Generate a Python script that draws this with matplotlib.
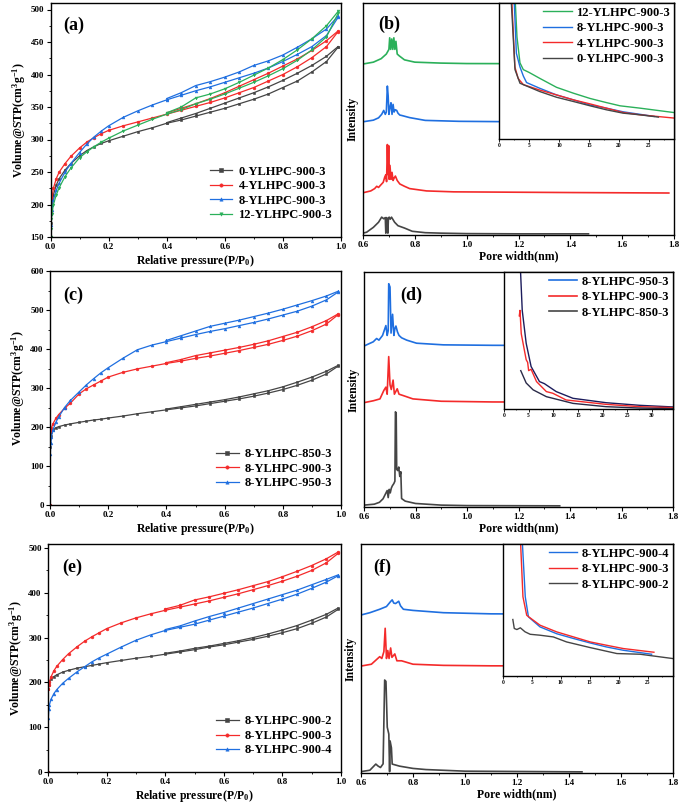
import matplotlib
matplotlib.use("Agg")
import matplotlib.pyplot as plt
from matplotlib.ticker import MultipleLocator, AutoMinorLocator, FormatStrFormatter
from matplotlib.lines import Line2D

plt.rcParams['font.family'] = ['Liberation Serif', 'DejaVu Serif']
plt.rcParams['font.weight'] = 'bold'
plt.rcParams['axes.labelweight'] = 'bold'
plt.rcParams['mathtext.fontset'] = 'custom'
plt.rcParams['mathtext.rm'] = 'Liberation Serif:bold'
plt.rcParams['mathtext.it'] = 'Liberation Serif:bold:italic'
plt.rcParams['mathtext.bf'] = 'Liberation Serif:bold'

# ---------------- colours ----------------
C_GRAY = '#454545'
C_RED = '#f42a2a'
C_BLUE = '#1f6fe0'
C_GREEN = '#2bb05a'
C_NAVY = '#1c1c5c'

# ---------------- isotherm data ----------------
P_ads = [0.0, 0.001, 0.003, 0.005, 0.01, 0.02, 0.03, 0.05, 0.07, 0.1, 0.125, 0.15, 0.175, 0.2,
         0.25, 0.3, 0.35, 0.4, 0.45, 0.5, 0.55, 0.6, 0.65, 0.7, 0.75, 0.8, 0.85, 0.9, 0.95, 0.99]
P_des = [0.99, 0.95, 0.9, 0.85, 0.8, 0.75, 0.7, 0.65, 0.6, 0.55, 0.5, 0.45, 0.4]

# panel (a)
a_labels = ['0-YLHPC-900-3', '4-YLHPC-900-3', '8-YLHPC-900-3', '12-YLHPC-900-3']
a_ads = [
    [150, 172, 192, 200, 215, 230, 240, 253, 263, 275, 283, 289, 294, 298, 305, 312, 318, 325, 330, 336, 342, 348, 355, 362, 370, 380, 390, 404, 420, 442],
    [150, 188, 203, 210, 225, 240, 250, 263, 274, 287, 296, 303, 309, 314, 321, 327, 333, 339, 345, 351, 357, 364, 372, 380, 390, 400, 412, 426, 443, 466],
    [150, 168, 185, 192, 207, 222, 233, 250, 263, 280, 293, 304, 313, 321, 334, 344, 353, 361, 368, 375, 381, 388, 395, 402, 410, 420, 431, 443, 460, 488],
    [150, 163, 178, 185, 200, 215, 226, 243, 256, 272, 281, 289, 296, 302, 313, 322, 331, 339, 346, 355, 362, 370, 379, 388, 398, 409, 422, 438, 458, 494],
]
a_des = [
    [443, 428, 414, 402, 391, 381, 372, 364, 356, 348, 340, 333, 326],
    [467, 452, 437, 424, 413, 402, 392, 382, 372, 363, 355, 348, 341],
    [490, 470, 455, 442, 430, 421, 414, 404, 396, 389, 383, 372, 363],
    [497, 475, 455, 438, 423, 410, 399, 388, 378, 370, 364, 350, 341],
]

# panel (c)
c_labels = ['8-YLHPC-850-3', '8-YLHPC-900-3', '8-YLHPC-950-3']
c_ads = [
    [0, 150, 178, 186, 192, 198, 201, 205, 208, 212, 215, 218, 220, 223, 228, 234, 239, 244, 249, 254, 260, 266, 272, 279, 287, 296, 307, 320, 336, 356],
    [0, 175, 190, 198, 208, 222, 232, 248, 261, 285, 298, 308, 318, 328, 340, 349, 356, 363, 369, 376, 382, 389, 396, 404, 412, 422, 433, 447, 464, 488],
    [0, 130, 160, 175, 192, 212, 226, 250, 268, 290, 308, 324, 339, 352, 376, 398, 410, 419, 428, 437, 445, 452, 460, 468, 477, 487, 497, 510, 526, 546],
]
c_des = [
    [358, 343, 328, 315, 303, 293, 285, 277, 270, 264, 258, 252, 246],
    [490, 473, 457, 443, 432, 421, 412, 404, 397, 390, 383, 373, 365],
    [548, 536, 524, 513, 502, 492, 483, 474, 466, 458, 446, 434, 422],
]

# panel (e)
e_labels = ['8-YLHPC-900-2', '8-YLHPC-900-3', '8-YLHPC-900-4']
e_ads = [
    [0, 185, 195, 200, 207, 213, 217, 223, 227, 232, 235, 238, 241, 244, 249, 254, 258, 263, 268, 273, 279, 284, 290, 296, 303, 311, 320, 332, 346, 363],
    [0, 185, 195, 202, 212, 226, 236, 251, 264, 280, 292, 302, 311, 320, 333, 344, 353, 361, 368, 375, 382, 390, 398, 407, 416, 426, 437, 450, 467, 488],
    [0, 120, 140, 150, 162, 175, 184, 198, 209, 224, 235, 246, 255, 263, 279, 294, 306, 316, 323, 330, 339, 348, 357, 366, 376, 386, 397, 410, 424, 438],
]
e_des = [
    [366, 352, 339, 327, 317, 308, 300, 293, 287, 281, 276, 270, 265],
    [491, 476, 461, 448, 436, 425, 416, 407, 399, 391, 384, 372, 364],
    [440, 430, 418, 406, 396, 386, 376, 366, 356, 347, 337, 326, 318],
]

# ---------------- pore size distribution data (offset, arbitrary units) ----------------
# panel (b)
b_gray_x = [0.60, 0.614, 0.64, 0.66, 0.672, 0.68, 0.686, 0.688, 0.690, 0.694, 0.696, 0.698, 0.701, 0.705, 0.71, 0.722, 0.735, 0.76, 0.79, 0.84, 0.9, 1.0, 1.2, 1.47]
b_gray_y = [0.008, 0.012, 0.033, 0.055, 0.077, 0.07, 0.075, 0.008, 0.075, 0.072, 0.008, 0.07, 0.077, 0.068, 0.077, 0.055, 0.04, 0.03, 0.016, 0.01, 0.008, 0.006, 0.005, 0.005]
b_red_x = [0.60, 0.63, 0.645, 0.653, 0.66, 0.668, 0.678, 0.684, 0.688, 0.691, 0.694, 0.697, 0.699, 0.701, 0.704, 0.708, 0.712, 0.716, 0.72, 0.725, 0.732, 0.742, 0.76, 0.78, 0.845, 0.95, 1.1, 1.4, 1.78]
b_red_y = [0.182, 0.19, 0.2, 0.21, 0.205, 0.215, 0.227, 0.25, 0.26, 0.23, 0.39, 0.26, 0.385, 0.24, 0.3, 0.24, 0.27, 0.235, 0.245, 0.254, 0.235, 0.22, 0.21, 0.2, 0.19, 0.186, 0.185, 0.183, 0.181]
b_blue_x = [0.60, 0.64, 0.66, 0.672, 0.68, 0.686, 0.69, 0.694, 0.697, 0.70, 0.704, 0.708, 0.712, 0.716, 0.72, 0.724, 0.73, 0.735, 0.742, 0.75, 0.78, 0.84, 0.97, 1.2, 1.8]
b_blue_y = [0.488, 0.495, 0.505, 0.52, 0.537, 0.52, 0.53, 0.642, 0.60, 0.52, 0.55, 0.57, 0.52, 0.563, 0.53, 0.54, 0.537, 0.525, 0.517, 0.515, 0.506, 0.494, 0.49, 0.488, 0.487]
b_green_x = [0.60, 0.64, 0.67, 0.69, 0.70, 0.703, 0.707, 0.711, 0.715, 0.719, 0.723, 0.727, 0.732, 0.74, 0.76, 0.8, 0.9, 1.0, 1.8]
b_green_y = [0.737, 0.745, 0.76, 0.78, 0.80, 0.85, 0.80, 0.845, 0.80, 0.85, 0.80, 0.835, 0.78, 0.772, 0.755, 0.745, 0.741, 0.739, 0.737]
# inset (b)
bi_green_x = [2.67, 3.0, 3.5, 4.06, 5.0, 6.8, 9.6, 12.4, 15.2, 17.9, 20.2, 23.5, 29.1]
bi_green_y = [1.05, 0.75, 0.56, 0.51, 0.49, 0.446, 0.38, 0.337, 0.298, 0.268, 0.244, 0.227, 0.195]
bi_blue_x = [2.5, 2.9, 3.5, 4.06, 4.6, 6.8, 9.6, 12.4, 15.2, 17.9, 20.7, 25.9]
bi_blue_y = [1.05, 0.63, 0.53, 0.463, 0.415, 0.373, 0.324, 0.288, 0.25, 0.227, 0.2, 0.166]
bi_red_x = [2.1, 2.65, 3.2, 4.06, 6.8, 9.6, 12.4, 15.2, 17.9, 20.7, 23.5, 29.2]
bi_red_y = [1.05, 0.53, 0.445, 0.4, 0.36, 0.324, 0.288, 0.258, 0.227, 0.195, 0.178, 0.154]
bi_gray_x = [2.0, 2.67, 3.5, 6.8, 9.6, 12.4, 15.2, 17.9, 20.7, 23.5, 26.6]
bi_gray_y = [1.05, 0.51, 0.41, 0.349, 0.307, 0.276, 0.244, 0.215, 0.19, 0.178, 0.161]

# panel (d)
d_blue_x = [0.60, 0.636, 0.649, 0.658, 0.672, 0.685, 0.690, 0.694, 0.696, 0.701, 0.705, 0.711, 0.716, 0.720, 0.724, 0.730, 0.736, 0.746, 0.766, 0.804, 0.908, 1.1, 1.8]
d_blue_y = [0.685, 0.703, 0.717, 0.71, 0.73, 0.772, 0.73, 0.75, 0.95, 0.936, 0.74, 0.82, 0.73, 0.76, 0.77, 0.745, 0.73, 0.72, 0.71, 0.697, 0.69, 0.688, 0.686]
d_red_x = [0.60, 0.636, 0.662, 0.677, 0.685, 0.690, 0.696, 0.701, 0.706, 0.713, 0.718, 0.729, 0.736, 0.75, 0.79, 0.9, 1.1, 1.8]
d_red_y = [0.444, 0.452, 0.46, 0.496, 0.51, 0.48, 0.64, 0.52, 0.50, 0.54, 0.48, 0.503, 0.48, 0.475, 0.46, 0.45, 0.447, 0.445]
d_gray_x = [0.60, 0.64, 0.66, 0.674, 0.684, 0.690, 0.694, 0.698, 0.702, 0.706, 0.710, 0.716, 0.720, 0.722, 0.725, 0.727, 0.731, 0.735, 0.739, 0.743, 0.746, 0.76, 0.8, 0.9, 1.0, 1.36]
d_gray_y = [0.008, 0.012, 0.02, 0.035, 0.057, 0.07, 0.04, 0.075, 0.06, 0.08, 0.09, 0.10, 0.11, 0.405, 0.40, 0.16, 0.155, 0.17, 0.13, 0.15, 0.036, 0.025, 0.015, 0.008, 0.006, 0.005]
# inset (d)
di_navy_x = [3.3, 3.7, 4.5, 5.5, 7.2, 8.2, 10.6, 14.0, 20.7, 27.5, 34.3]
di_navy_y = [1.05, 0.72, 0.48, 0.31, 0.2, 0.185, 0.127, 0.078, 0.046, 0.027, 0.015]
di_red_x = [3.1, 3.25, 3.5, 4.5, 4.8, 5.0, 5.5, 6.6, 8.6, 9.9, 12.6, 20.7, 27.5, 34.3]
di_red_y = [0.68, 0.72, 0.55, 0.36, 0.34, 0.28, 0.29, 0.2, 0.127, 0.115, 0.066, 0.034, 0.017, 0.01]
di_gray_x = [3.4, 4.5, 5.9, 8.6, 14.0, 20.7, 27.5, 34.3]
di_gray_y = [0.28, 0.19, 0.14, 0.09, 0.041, 0.017, 0.007, 0.003]

# panel (f)
f_blue_x = [0.60, 0.634, 0.672, 0.698, 0.714, 0.72, 0.726, 0.733, 0.745, 0.752, 0.763, 0.8, 0.917, 1.1, 1.8]
f_blue_y = [0.69, 0.70, 0.715, 0.727, 0.749, 0.756, 0.742, 0.74, 0.75, 0.73, 0.715, 0.71, 0.70, 0.695, 0.692]
f_red_x = [0.60, 0.64, 0.672, 0.68, 0.688, 0.693, 0.698, 0.703, 0.708, 0.714, 0.719, 0.73, 0.738, 0.756, 0.8, 0.917, 1.1, 1.8]
f_red_y = [0.467, 0.475, 0.508, 0.50, 0.53, 0.632, 0.50, 0.535, 0.50, 0.546, 0.505, 0.52, 0.49, 0.49, 0.475, 0.47, 0.468, 0.467]
f_gray_x = [0.60, 0.634, 0.657, 0.666, 0.675, 0.685, 0.691, 0.696, 0.701, 0.707, 0.710, 0.712, 0.717, 0.72, 0.748, 0.8, 0.85, 1.0, 1.45]
f_gray_y = [0.006, 0.012, 0.039, 0.03, 0.024, 0.04, 0.406, 0.40, 0.20, 0.17, 0.006, 0.14, 0.11, 0.039, 0.03, 0.02, 0.015, 0.008, 0.005]
# inset (f)
fi_red_x = [3.0, 3.45, 4.1, 4.7, 6.4, 9.3, 12.2, 15.1, 17.9, 20.8, 26.1]
fi_red_y = [1.05, 0.6, 0.46, 0.44, 0.385, 0.334, 0.296, 0.258, 0.233, 0.208, 0.18]
fi_blue_x = [3.3, 3.85, 4.4, 6.4, 9.3, 12.2, 15.1, 17.9, 20.8, 25.7]
fi_blue_y = [1.05, 0.6, 0.448, 0.372, 0.32, 0.284, 0.25, 0.22, 0.195, 0.165]
fi_gray_x = [1.7, 1.95, 2.4, 3.0, 3.8, 4.7, 6.4, 8.7, 11.0, 15.1, 19.7, 23.7, 29.4]
fi_gray_y = [0.428, 0.36, 0.352, 0.365, 0.335, 0.316, 0.309, 0.296, 0.258, 0.215, 0.17, 0.165, 0.132]

# ---------------- figure ----------------
W, H = 685, 809
fig = plt.figure(figsize=(W / 100, H / 100), dpi=100)


def ax_px(l, t, r, b, **kw):
    return fig.add_axes([l / W, 1 - b / H, (r - l) / W, (b - t) / H], **kw)


TICK_FS = 6.5
LABEL_FS = 8.5
LEG_FS = 9
PANEL_FS = 13


def style_axes(ax):
    for s in ax.spines.values():
        s.set_linewidth(1.0)
    ax.tick_params(which='major', direction='out', length=3, width=0.8, labelsize=TICK_FS, pad=1.5)
    ax.tick_params(which='minor', direction='out', length=1.6, width=0.6)


def iso_panel(ax, ads, des, labels, colors, markers, ylim, ymajor, letter, lpos, legpos):
    for a, d, lab, c, m in zip(ads, des, labels, colors, markers):
        ax.plot(P_ads, a, color=c, lw=0.9, marker=m, ms=2.0, mew=0.4, label=lab)
        ax.plot(P_des, d, color=c, lw=0.9, marker=m, ms=2.0, mew=0.4)
    ax.set_xlim(0, 1.0)
    ax.set_ylim(*ylim)
    ax.xaxis.set_major_locator(MultipleLocator(0.2))
    ax.xaxis.set_minor_locator(MultipleLocator(0.1))
    ax.yaxis.set_major_locator(MultipleLocator(ymajor))
    ax.yaxis.set_minor_locator(AutoMinorLocator(2))
    ax.xaxis.set_major_formatter(FormatStrFormatter('%.1f'))
    style_axes(ax)
    ax.set_xlabel('Relative pressure(P/P$_0$)', fontsize=LABEL_FS, labelpad=1)
    ax.set_ylabel('Volume@STP(cm$^3$g$^{-1}$)', fontsize=LABEL_FS, labelpad=2)
    ax.text(lpos[0], lpos[1], letter, transform=ax.transAxes, fontsize=PANEL_FS,
            fontweight='bold', ha='left', va='center')
    ax.legend(loc='lower right', bbox_to_anchor=legpos, frameon=False, fontsize=LEG_FS,
              handlelength=1.8, handletextpad=0.5, labelspacing=0.2, borderpad=0.2,
              numpoints=1, markerscale=1.2)


def psd_panel(ax, curves, letter, lpos):
    for x, y, c in curves:
        ax.plot(x, y, color=c, lw=1.2)
    ax.set_xlim(0.6, 1.8)
    ax.set_ylim(0, 1)
    ax.set_yticks([])
    ax.xaxis.set_major_locator(MultipleLocator(0.2))
    ax.xaxis.set_minor_locator(MultipleLocator(0.1))
    ax.xaxis.set_major_formatter(FormatStrFormatter('%.1f'))
    style_axes(ax)
    ax.set_xlabel('Pore width(nm)', fontsize=LABEL_FS, labelpad=1)
    ax.set_ylabel('Intensity', fontsize=LABEL_FS, labelpad=3)
    ax.text(lpos[0], lpos[1], letter, transform=ax.transAxes, fontsize=PANEL_FS,
            fontweight='bold', ha='left', va='center')


def inset_panel(ax, curves, xmax):
    for x, y, c, lab in curves:
        ax.plot(x, y, color=c, lw=1.0, label=lab)
    ax.set_xlim(0, xmax)
    ax.set_ylim(0, 1)
    ax.set_yticks([])
    ax.xaxis.set_major_locator(MultipleLocator(5))
    ax.xaxis.set_minor_locator(MultipleLocator(2.5))
    ax.set_facecolor('white')
    for s in ax.spines.values():
        s.set_linewidth(1.0)
    ax.tick_params(which='major', direction='out', length=2, width=0.6, labelsize=4, pad=1)
    ax.tick_params(which='minor', direction='out', length=1, width=0.5)


INSET_LEG = dict(loc='upper right', frameon=False, fontsize=LEG_FS, handlelength=2.25,
                 handletextpad=0.4, labelspacing=0.28, borderpad=0.15, borderaxespad=0.15)

# (a)
axa = ax_px(50.5, 3, 341, 237)
iso_panel(axa, a_ads, a_des, a_labels, [C_GRAY, C_RED, C_BLUE, C_GREEN], ['s', 'o', '^', 'v'],
          (150, 510), 50, '(a)', (0.043, 0.906), (1.0, 0.03))

# (b)
axb = ax_px(363, 3, 674, 235)
psd_panel(axb, [(b_gray_x, b_gray_y, C_GRAY), (b_red_x, b_red_y, C_RED),
                (b_blue_x, b_blue_y, C_BLUE), (b_green_x, b_green_y, C_GREEN)], '(b)', (0.048, 0.909))
axbi = ax_px(499, 3, 674, 139, zorder=5)
inset_panel(axbi, [(bi_green_x, bi_green_y, C_GREEN, '12-YLHPC-900-3'),
                   (bi_blue_x, bi_blue_y, C_BLUE, '8-YLHPC-900-3'),
                   (bi_red_x, bi_red_y, C_RED, '4-YLHPC-900-3'),
                   (bi_gray_x, bi_gray_y, C_GRAY, '0-YLHPC-900-3')], 29.2)
axbi.legend(**INSET_LEG)

# (c)
axc = ax_px(50, 271, 341, 505)
iso_panel(axc, c_ads, c_des, c_labels, [C_GRAY, C_RED, C_BLUE], ['s', 'o', '^'],
          (0, 600), 100, '(c)', (0.045, 0.897), (1.0, 0.03))

# (d)
axd = ax_px(364, 272, 673, 507)
psd_panel(axd, [(d_gray_x, d_gray_y, C_GRAY), (d_red_x, d_red_y, C_RED),
                (d_blue_x, d_blue_y, C_BLUE)], '(d)', (0.117, 0.902))
axdi = ax_px(504, 272, 673, 409, zorder=5)
inset_panel(axdi, [(di_navy_x, di_navy_y, C_NAVY, None), (di_red_x, di_red_y, C_RED, None),
                   (di_gray_x, di_gray_y, '#2a2a48', None)], 34.3)
hd = [Line2D([], [], color=C_BLUE, lw=1.2), Line2D([], [], color=C_RED, lw=1.2),
      Line2D([], [], color=C_GRAY, lw=1.2)]
axdi.legend(hd, ['8-YLHPC-950-3', '8-YLHPC-900-3', '8-YLHPC-850-3'], **INSET_LEG)

# (e)
axe = ax_px(48, 544, 341, 772)
iso_panel(axe, e_ads, e_des, e_labels, [C_GRAY, C_RED, C_BLUE], ['s', 'o', '^'],
          (0, 509), 100, '(e)', (0.048, 0.899), (1.0, 0.03))

# (f)
axf = ax_px(361, 544, 673, 773)
psd_panel(axf, [(f_gray_x, f_gray_y, C_GRAY), (f_red_x, f_red_y, C_RED),
                (f_blue_x, f_blue_y, C_BLUE)], '(f)', (0.038, 0.9))
axfi = ax_px(503, 544, 673, 676, zorder=5)
inset_panel(axfi, [(fi_blue_x, fi_blue_y, C_BLUE, '8-YLHPC-900-4'),
                   (fi_red_x, fi_red_y, C_RED, '8-YLHPC-900-3'),
                   (fi_gray_x, fi_gray_y, C_GRAY, '8-YLHPC-900-2')], 29.4)
axfi.legend(**INSET_LEG)

fig.savefig('out.png', dpi=100)
